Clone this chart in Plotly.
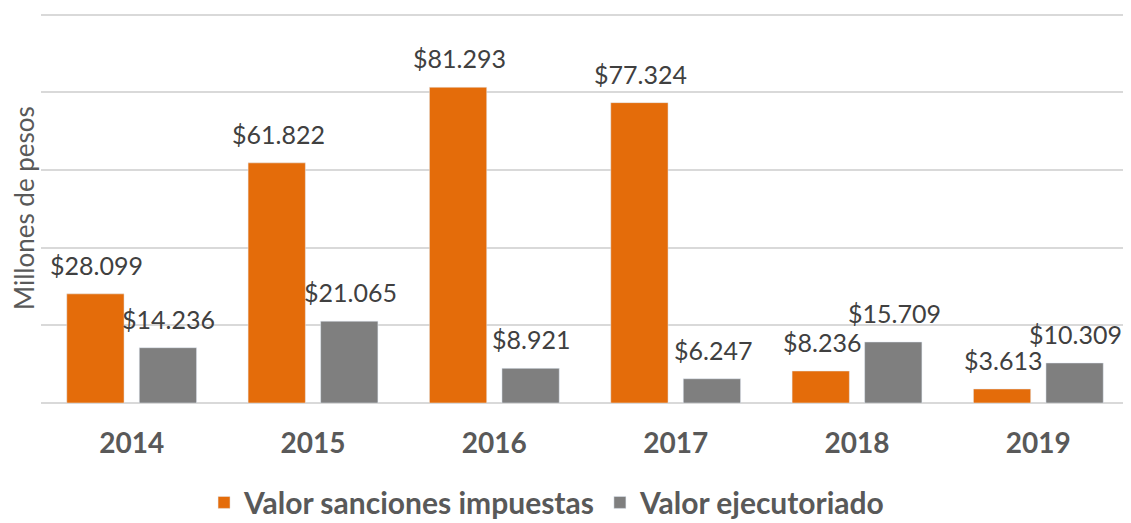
import plotly.graph_objects as go

# Datos (millones de pesos)
years = ['2014', '2015', '2016', '2017', '2018', '2019']
sanciones_impuestas = [28099, 61822, 81293, 77324, 8236, 3613]
valor_ejecutoriado = [14236, 21065, 8921, 6247, 15709, 10309]

ORANGE = '#E46C0A'
GREY = '#7F7F7F'
FONT = 'Lato'


def peso(v):
    return '$' + f'{v:,}'.replace(',', '.')


fig = go.Figure()
fig.add_trace(go.Bar(x=years, y=sanciones_impuestas, name='Valor sanciones impuestas',
                     marker_color=ORANGE))
fig.add_trace(go.Bar(x=years, y=valor_ejecutoriado, name='Valor ejecutoriado',
                     marker_color=GREY))

# etiquetas de datos sobre cada barra
for i, (a, b) in enumerate(zip(sanciones_impuestas, valor_ejecutoriado)):
    for val, dx in ((a, -35), (b, 37)):
        fig.add_annotation(x=i, y=val, text=peso(val), showarrow=False,
                           xshift=dx, yshift=12, yanchor='bottom',
                           font=dict(family=FONT, size=25, color='#404040'))

# la página deja 8px de margen en el body
fig.update_layout(
    width=1123, height=515,
    margin=dict(l=33, r=2, t=5, b=120, autoexpand=False),
    plot_bgcolor='white', paper_bgcolor='white',
    barmode='group', bargap=0.20, bargroupgap=0.21,
    font=dict(family=FONT, color='#595959'),
    legend=dict(orientation='h', x=0.48, xref='container', xanchor='center',
                y=0.04, yref='container', yanchor='middle',
                font=dict(family=FONT, size=30, color='#595959', weight='bold'),
                itemwidth=30),
    showlegend=True,
)
fig.update_xaxes(type='category', showline=False, ticks='', ticklabelstandoff=21,
                 tickfont=dict(family=FONT, size=28, color='#595959', weight='bold'))
fig.update_yaxes(range=[0, 100400], dtick=20000, showticklabels=False, showgrid=True,
                 gridcolor='#D9D9D9', gridwidth=1.5, zeroline=True, zerolinecolor='#D9D9D9',
                 zerolinewidth=1.5)
fig.add_annotation(text='Millones de pesos', textangle=-90, xref='paper', yref='paper',
                   x=0, y=0.5, xshift=-17, xanchor='center', showarrow=False,
                   font=dict(family=FONT, size=26, color='#595959'))

fig.write_html('out.html')
